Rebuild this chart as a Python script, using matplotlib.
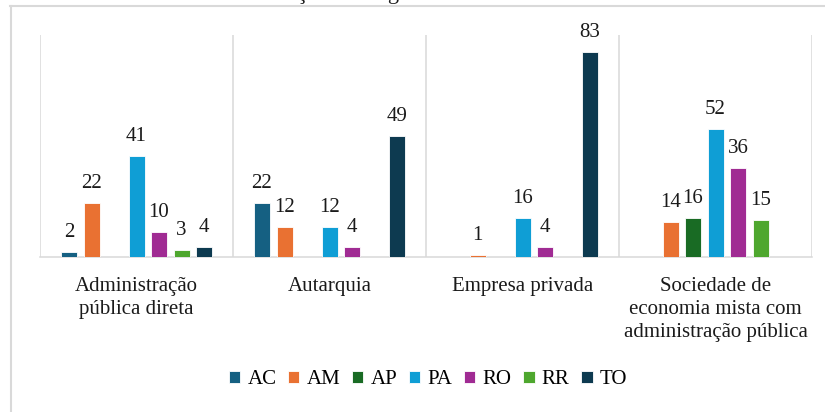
import matplotlib
matplotlib.use("Agg")
import matplotlib.pyplot as plt
from matplotlib.lines import Line2D
import numpy as np

plt.rcParams["font.family"] = ["Liberation Serif", "DejaVu Serif"]

categories = [
    "Administração\npública direta",
    "Autarquia",
    "Empresa privada",
    "Sociedade de\neconomia mista com\nadministração pública",
]
states = ["AC", "AM", "AP", "PA", "RO", "RR", "TO"]
# counts per state, one entry per category (0 = no bar drawn)
counts = {
    "AC": [2, 22, 0, 0],
    "AM": [22, 12, 1, 14],
    "AP": [0, 0, 0, 16],
    "PA": [41, 12, 16, 52],
    "RO": [10, 4, 4, 36],
    "RR": [3, 0, 0, 15],
    "TO": [4, 49, 83, 0],
}
colors = ["#156082", "#E97132", "#196B24", "#0F9ED5", "#A02B93", "#4EA72E", "#0D3A50"]
title = "Distribuição dos órgãos"

GRID = "#D9D9D9"
TXT = "#1A1A1A"
FS = 15
W, H, DPI = 825, 412, 100

fig = plt.figure(figsize=(W / DPI, H / DPI), dpi=DPI)
ax = fig.add_axes([40 / W, 1 - 257 / H, 772 / W, 222 / H])

slot = 22.5 / 193
bar_w = 16 / 193
x = np.arange(len(categories))

for i, (st, col) in enumerate(zip(states, colors)):
    vals = np.array(counts[st], dtype=float)
    xs = x + (i - 3) * slot
    mask = vals > 0
    ax.bar(xs[mask], vals[mask], width=bar_w, color=col,
           edgecolor="white", linewidth=0.6, label=st, zorder=3)
    for xv, v in zip(xs[mask], vals[mask]):
        ax.annotate(f"{int(v)}", (xv, v), xytext=(0, 10.8),
                    textcoords="offset points", ha="center", va="baseline",
                    fontsize=FS, color=TXT)

ax.set_xlim(-0.5, len(categories) - 0.5)
ax.set_ylim(0, 90)
ax.set_yticks([])
ax.set_xticks(x)
ax.set_xticklabels(categories, fontsize=FS, color=TXT, linespacing=1.27)
ax.tick_params(axis="x", length=0, pad=14.5)
for side in ["left", "right", "top"]:
    ax.spines[side].set_visible(False)
ax.spines["bottom"].set_color(GRID)
ax.spines["bottom"].set_linewidth(1.1)

# category separators
for xs in np.arange(-0.5, len(categories), 1.0):
    ax.axvline(xs, color=GRID, linewidth=1.1, zorder=1)

# chart frame (right and bottom edges fall outside the canvas)
fig.add_artist(Line2D([10.5 / W, 10.5 / W], [0, 1 - 5.5 / H],
                      transform=fig.transFigure, color=GRID, linewidth=1.5))
fig.add_artist(Line2D([10 / W, 1], [1 - 5.5 / H, 1 - 5.5 / H],
                      transform=fig.transFigure, color=GRID, linewidth=1.5))

# title sits above the canvas, only its descenders show
fig.text(218 / W, 1 + 0.5 / H, title, fontsize=16, ha="left", va="baseline",
         color=TXT)

ax.legend(loc="center", bbox_to_anchor=(428 / W, (H - 380) / H),
          bbox_transform=fig.transFigure, ncol=7, frameon=False,
          fontsize=FS, handlelength=0.55, handleheight=0.55,
          handletextpad=0.35, columnspacing=0.55)

fig.savefig("out.png", dpi=DPI)
